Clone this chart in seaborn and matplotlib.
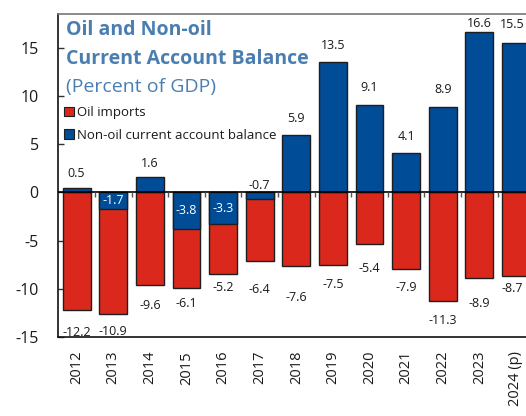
import numpy as np
import pandas as pd
import matplotlib
matplotlib.use("Agg")
import matplotlib.pyplot as plt
from matplotlib.patches import Patch
import seaborn as sns

# Data (percent of GDP)
years = ["2012", "2013", "2014", "2015", "2016", "2017", "2018",
         "2019", "2020", "2021", "2022", "2023", "2024 (p)"]
non_oil_balance = [0.5, -1.7, 1.6, -3.8, -3.3, -0.7, 5.9,
                   13.5, 9.1, 4.1, 8.9, 16.6, 15.5]
oil_imports = [12.2, 10.9, 9.6, 6.1, 5.2, 6.4, 7.6,
               7.5, 5.4, 7.9, 11.3, 8.9, 8.7]
y_ticks = [-15, -10, -5, 0, 5, 10, 15]

# Label placement (points from the bar end)
blue_label_gap = [10, 10, 10, 0, 0, 5, 12.5, 12, 12, 11.5, 12.5, 6.5, 13]
red_label_gap = [16, 13, 14.5, 11, 9.5, 21, 23, 14, 17.5, 14, 14, 18, 9]

BLUE = "#004C97"
RED = "#DA291C"
EDGE = "#1e1e1e"
TITLE = "#4A7EB0"
TEXT = "#1a1a1a"

sns.set_style("white")
plt.rcParams["font.family"] = ["Open Sans", "DejaVu Sans"]
plt.rcParams["axes.unicode_minus"] = False

df = pd.DataFrame({"year": years,
                   "non_oil": non_oil_balance,
                   "oil": oil_imports})
# oil imports hang below the non-oil bar when that bar is negative
df["oil_base"] = np.minimum(0, df["non_oil"])
df["oil_end"] = df["oil_base"] - df["oil"]

fig = plt.figure(figsize=(5.26, 4.16), dpi=100)
ax = fig.add_axes([58.3 / 526, 79 / 416, 476 / 526, 323 / 416])

sns.barplot(data=df, x="year", y="oil_end", color=RED, saturation=1,
            width=0.76, edgecolor=EDGE, linewidth=1.0, ax=ax, zorder=2)
sns.barplot(data=df, x="year", y="non_oil", color=BLUE, saturation=1,
            width=0.76, edgecolor=EDGE, linewidth=1.0, ax=ax, zorder=3)

ax.set_xlim(-0.5, 12.5)
ax.set_ylim(-15, 18.5)
ax.set_yticks(y_ticks)
ax.set_yticklabels([str(t) for t in y_ticks])
ax.set_xlabel("")
ax.set_ylabel("")
ax.axhline(0, color="black", lw=1.2, zorder=4)

# category separators on the zero line
ax.vlines(np.arange(len(years)) + 0.5, -0.45, 0, color="#555555",
          lw=1.0, zorder=4)

ax.tick_params(axis="y", direction="in", length=4, width=1, colors="#333333",
               labelcolor=TEXT, labelsize=11.5, pad=14, left=True)
ax.tick_params(axis="x", length=0, labelsize=10.5, labelcolor=TEXT,
               labelrotation=90, pad=10)
for lab in ax.get_xticklabels():
    lab.set_va("top")

for side in ["left", "bottom", "top", "right"]:
    ax.spines[side].set_color("#111111")
    ax.spines[side].set_linewidth(1.2)
ax.spines["top"].set_color("#777777")

# value labels
n = len(years)
for i, row in df.iterrows():
    v = row["non_oil"]
    dx = -3 if i == n - 1 else 0   # keep the last label inside the canvas
    if v >= 0:
        ax.annotate(f"{v:.1f}", (i, v), xytext=(dx, blue_label_gap[i]),
                    textcoords="offset points", ha="center", va="center",
                    fontsize=9, color=TEXT, zorder=5)
    elif v <= -1:
        ax.text(i, v / 2, f"{v:.1f}", ha="center", va="center",
                fontsize=9, color="white", zorder=5)
    else:
        ax.annotate(f"{v:.1f}", (i, 0), xytext=(0, blue_label_gap[i]),
                    textcoords="offset points", ha="center", va="center",
                    fontsize=9, color=TEXT, zorder=5)
    ax.annotate(f"{-row['oil']:.1f}", (i, row["oil_end"]),
                xytext=(dx, -red_label_gap[i]), textcoords="offset points",
                ha="center", va="center", fontsize=9, color=TEXT, zorder=5)

# title block
fig.text(66 / 526, 1 - 30 / 416, "Oil and Non-oil", fontsize=14,
         fontweight="bold", color=TITLE, va="center", ha="left")
fig.text(66 / 526, 1 - 59 / 416, "Current Account Balance", fontsize=14,
         fontweight="bold", color=TITLE, va="center", ha="left")
fig.text(66 / 526, 1 - 87 / 416, "(Percent of GDP)", fontsize=14,
         color=TITLE, va="center", ha="left")

handles = [Patch(facecolor=RED, edgecolor=EDGE, lw=0.8, label="Oil imports"),
           Patch(facecolor=BLUE, edgecolor=EDGE, lw=0.8,
                 label="Non-oil current account balance")]
fig.legend(handles=handles, loc="upper left",
           bbox_to_anchor=(64 / 526, 1 - 106 / 416), frameon=False,
           fontsize=9.5, handlelength=0.75, handleheight=0.75,
           handletextpad=0.25, labelspacing=0.75, borderaxespad=0,
           borderpad=0, labelcolor=TEXT)

fig.savefig("out.png", dpi=100)
